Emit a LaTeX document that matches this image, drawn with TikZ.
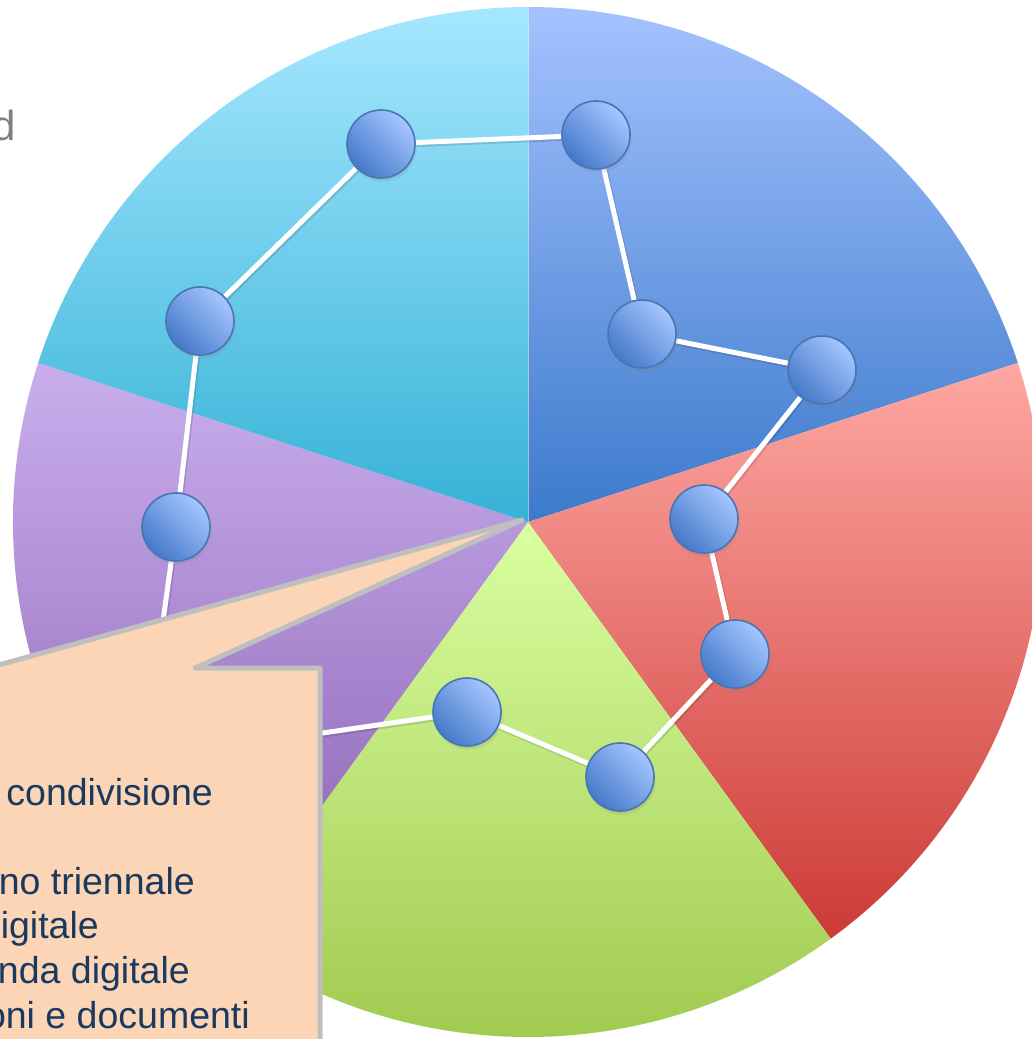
\documentclass[tikz,border=0pt]{standalone}
\usepackage{fontspec}
\setmainfont{Liberation Sans}
\usepackage{xcolor}
\usetikzlibrary{shadows}
\usetikzlibrary{calc}
\definecolor{bluetop}{HTML}{A4C2FF}
\definecolor{bluebot}{HTML}{3C7ACB}
\definecolor{redtop}{HTML}{FFA8A3}
\definecolor{redbot}{HTML}{CC3A36}
\definecolor{greentop}{HTML}{D9FFA1}
\definecolor{greenbot}{HTML}{9DC74B}
\definecolor{purpletop}{HTML}{C9AEED}
\definecolor{purplebot}{HTML}{8A62B3}
\definecolor{cyantop}{HTML}{A6E7FF}
\definecolor{cyanbot}{HTML}{35B2D6}
\definecolor{balltop}{HTML}{A6C6FF}
\definecolor{ballbot}{HTML}{4479C9}
\definecolor{ballline}{HTML}{4A75B3}
\definecolor{peach}{HTML}{FBD5B5}
\definecolor{boxline}{HTML}{BFBFBF}
\definecolor{textblue}{HTML}{1A395F}
\pgfdeclarelayer{pie}
\pgfdeclarelayer{links}
\pgfsetlayers{pie,links,main}
\tikzstyle{ball}=[draw=ballline,line width=1.6pt,circle,minimum size=68pt,inner sep=0pt,top color=balltop,bottom color=ballbot,shading angle=-45,circular drop shadow={shadow xshift=1pt,shadow yshift=-3pt,shadow scale=1.04,opacity=.35}]
\tikzstyle{link}=[white,line width=5pt,preaction={draw=black,opacity=.12,line width=6pt,transform canvas={xshift=1pt,yshift=-1.5pt}}]
\tikzstyle{boxtext}=[text=textblue,font=\fontsize{37.5}{44}\selectfont,inner sep=0pt,anchor=base east]

\begin{document}
\begin{tikzpicture}[x=1pt,y=-1pt]
\useasboundingbox (0,0) rectangle (1032,1039);
\clip (0,0) rectangle (1032,1039);

\coordinate (c) at (528,522);
% pie slices
\begin{pgfonlayer}{pie}
\fill[white] (0,0) rectangle (1032,1039);
\shade[top color=bluetop,bottom color=bluebot] (c) -- ++(-90:515) arc[start angle=-90,end angle=-18,radius=515] -- cycle;
\shade[top color=redtop,bottom color=redbot] (c) -- ++(-18:515) arc[start angle=-18,end angle=54,radius=515] -- cycle;
\shade[top color=greentop,bottom color=greenbot] (c) -- ++(54:515) arc[start angle=54,end angle=126,radius=515] -- cycle;
\shade[top color=purpletop,bottom color=purplebot] (c) -- ++(126:515) arc[start angle=126,end angle=198,radius=515] -- cycle;
\shade[top color=cyantop,bottom color=cyanbot] (c) -- ++(198:515) arc[start angle=198,end angle=270,radius=515] -- cycle;
\draw[white,opacity=.5,line width=.8pt] (c) -- ++(-90:515);
\end{pgfonlayer}

\node [anchor=base east,text=black!50,font=\fontsize{42}{50}\selectfont,inner sep=0pt] (lbl) at (16,140) {d};

% the path of balls
\coordinate (hid) at (144,759);
\node [ball] (n1) at (381,144) {};
\node [ball] (n2) at (596,135) {};
\node [ball] (n3) at (642,334) {};
\node [ball] (n4) at (822,370) {};
\node [ball] (n5) at (704,519) {};
\node [ball] (n6) at (735,654) {};
\node [ball] (n7) at (620,777) {};
\node [ball] (n8) at (467,712) {};
\node [ball] (n9) at (176,527) {};
\node [ball] (n10) at (200,321) {};

\begin{pgfonlayer}{links}
\draw[link] (n10) -- (n1);
\draw[link] (n1) -- (n2);
\draw[link] (n2) -- (n3);
\draw[link] (n3) -- (n4);
\draw[link] (n4) -- (n5);
\draw[link] (n5) -- (n6);
\draw[link] (n6) -- (n7);
\draw[link] (n7) -- (n8);
\draw[link] (n8) -- (hid);
\draw[link] (n9) -- (hid);
\draw[link] (n9) -- (n10);
\end{pgfonlayer}

% callout
\draw[boxline,fill=peach,line width=5pt,line join=round] (-30,1070) -- (-30,668) -- (-12,668) -- ([xshift=-6pt,yshift=2pt]c) -- (195,668) -- (320,668) -- (320,1070) -- cycle;

\node [boxtext] (t1) at (213,805) {condivisione};
\node [boxtext] (t2) at (195,894) {no triennale};
\node [boxtext] (t3) at (99,938) {igitale};
\node [boxtext] (t4) at (190,983) {nda digitale};
\node [boxtext] (t5) at (250,1028) {oni e documenti};
\end{tikzpicture}
\end{document}
